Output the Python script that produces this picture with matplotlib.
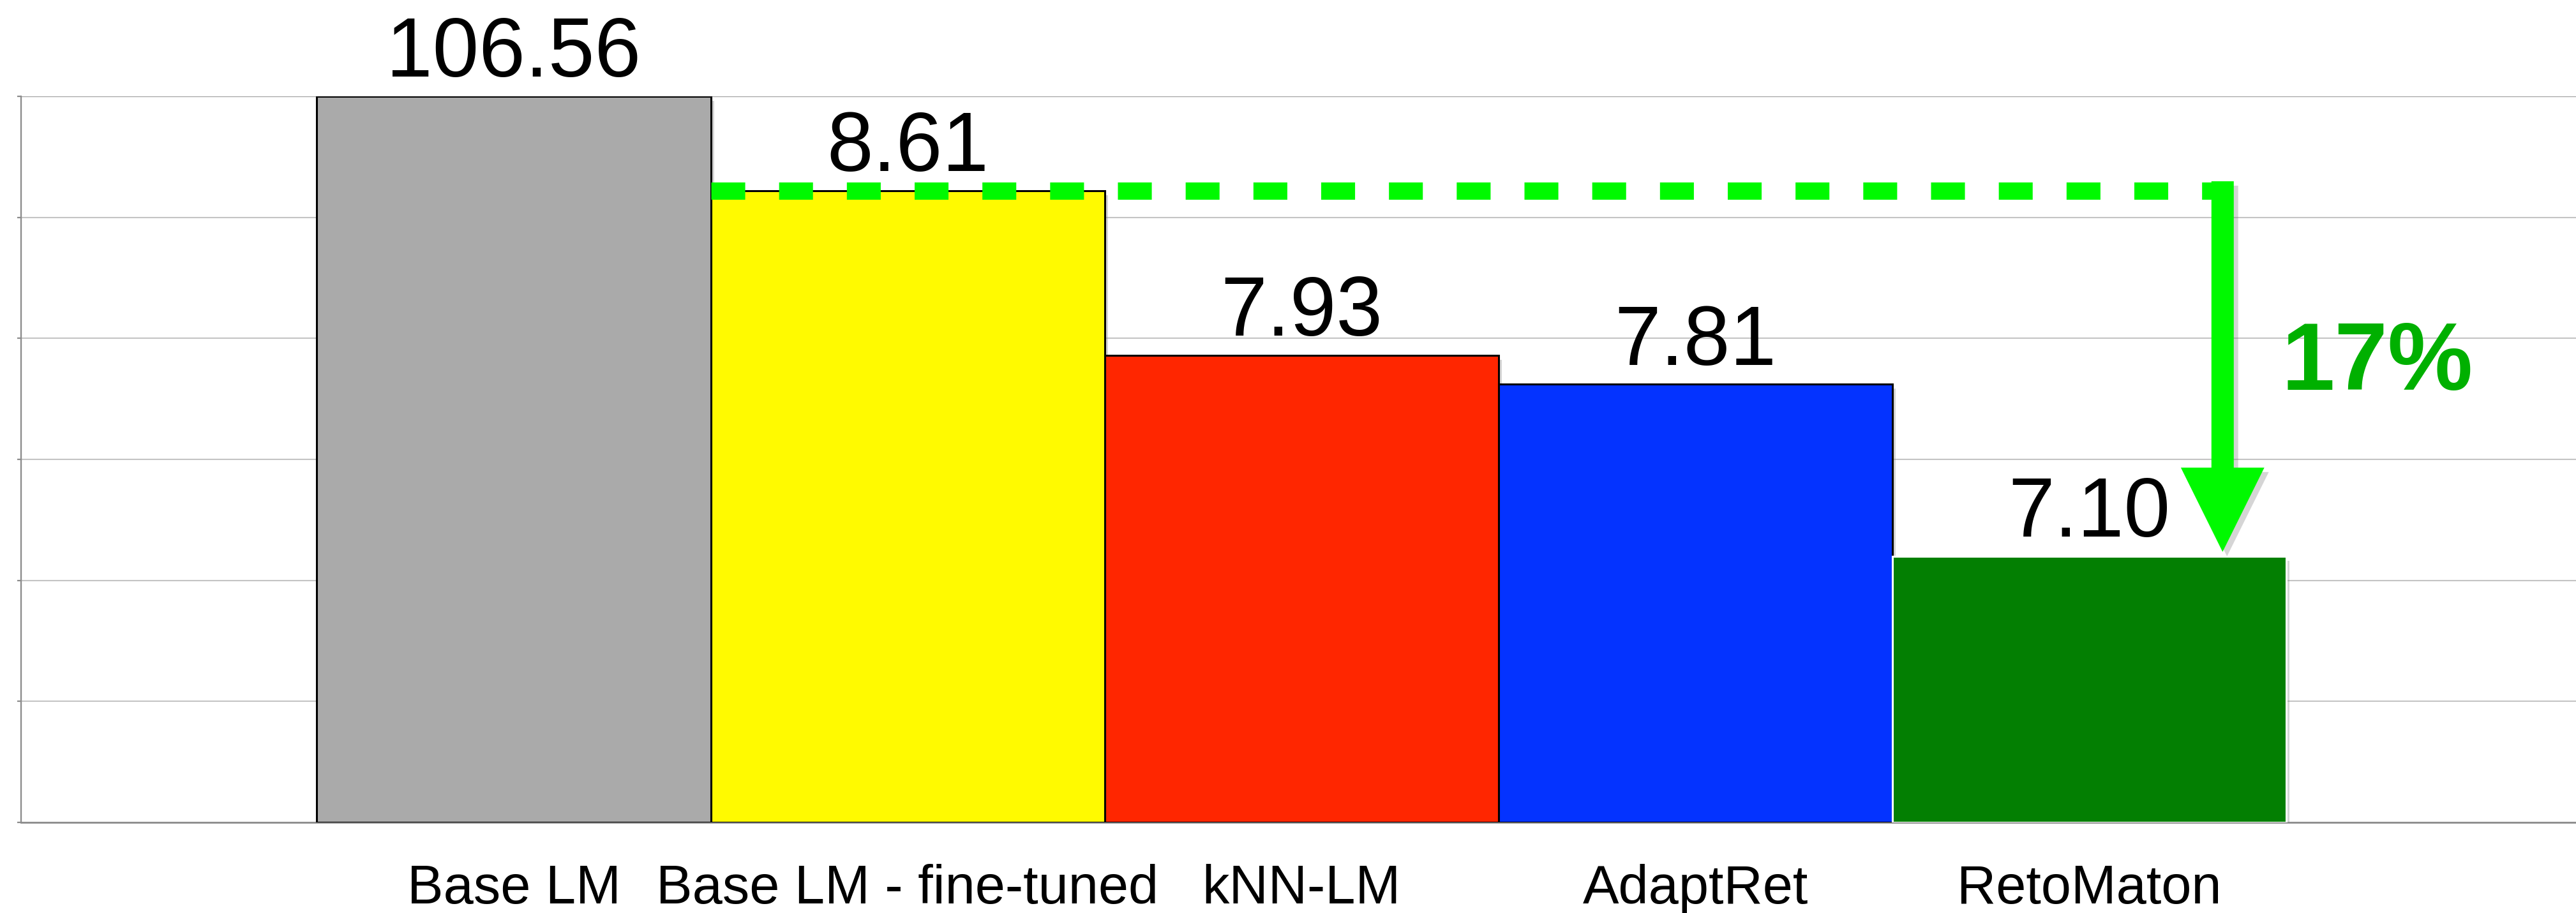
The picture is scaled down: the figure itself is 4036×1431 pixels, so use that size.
import numpy as np
import matplotlib
matplotlib.use("Agg")
import matplotlib.pyplot as plt
import matplotlib.patheffects as pe
from matplotlib.patches import FancyArrow

plt.rcParams['font.family'] = ['Liberation Sans', 'DejaVu Sans']

# data
models = ['Base LM', 'Base LM - fine-tuned', 'kNN-LM', 'AdaptRet', 'RetoMaton']
ppl = [106.56, 8.61, 7.93, 7.81, 7.10]
bar_colors = ['#aaaaaa', '#fffa00', '#ff2600', '#0433ff', '#037f02']
edge_colors = ['black', 'black', 'black', 'black', 'white']
gain_label = '17%'

ymin, ymax = 6.0, 9.0

fig = plt.figure(figsize=(40.37, 14.31), dpi=100)
ax = fig.add_axes([0.0082, 0.0992, 0.9918, 0.7953])

x = np.arange(len(models))
shown = np.minimum(ppl, ymax)   # Base LM goes off the scale
shadow = [pe.SimplePatchShadow(offset=(4, -5), shadow_rgbFace='#888888', alpha=0.35), pe.Normal()]
bars = ax.bar(x, shown - ymin, bottom=ymin, width=1.0, color=bar_colors,
              edgecolor=edge_colors, linewidth=2.2, zorder=3)
for b in bars:
    b.set_path_effects(shadow)

# value labels
for xi, v, s in zip(x, ppl, shown):
    ax.annotate(f'{v:.2f}', (xi, s), xytext=(0, 22), textcoords='offset points',
                ha='center', va='baseline', fontsize=94, color='black',
                annotation_clip=False, zorder=5)

# dashed reference line at the fine-tuned level, and the arrow down to RetoMaton
arrow_x = 4.339
ax.plot([0.5, arrow_x], [ppl[1], ppl[1]], color='#00f900', lw=19.5,
        dashes=(1.96, 1.96), solid_capstyle='butt', dash_capstyle='butt', zorder=4)
arr = FancyArrow(arrow_x, 8.649, 0, ppl[4] + 0.018 - 8.649, width=0.0567,
                 head_width=0.212, head_length=0.348, length_includes_head=True,
                 color='#00f900', lw=0, zorder=6)
arr.set_path_effects([pe.SimplePatchShadow(offset=(5, -5), shadow_rgbFace='#777777', alpha=0.3), pe.Normal()])
ax.add_patch(arr)
ax.text(4.731, 7.89, gain_label, ha='center', va='center', fontsize=108,
        fontweight='bold', color='#00b000', zorder=6)

ax.set_xlim(-1.251, 5.238)
ax.set_ylim(ymin, ymax)
ax.set_yticks(np.arange(6.0, 9.01, 0.5))
ax.set_yticklabels([])
ax.tick_params(axis='y', direction='out', length=4.5, width=1.6, color='#8c8c8c')
ax.set_xticks(x)
ax.set_xticklabels(models, fontsize=61)
ax.tick_params(axis='x', length=0, pad=47)
ax.grid(axis='y', color='#c4c4c4', lw=1.5, zorder=0)
ax.axhline(ymax, color='#a0a0a0', lw=1.6, zorder=1)
ax.set_axisbelow(True)

for side in ['top', 'right']:
    ax.spines[side].set_visible(False)
ax.spines['left'].set_color('#8c8c8c')
ax.spines['left'].set_linewidth(1.7)
ax.spines['bottom'].set_color('#8c8c8c')
ax.spines['bottom'].set_linewidth(2.0)

fig.savefig('out.png', dpi=100)
